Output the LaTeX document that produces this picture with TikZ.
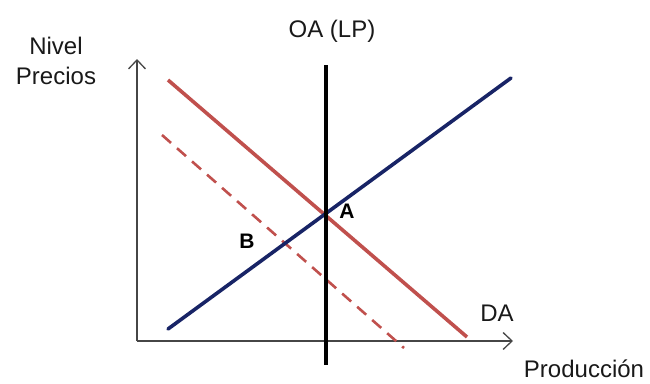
\documentclass[tikz,border=0pt]{standalone}
\usepackage{fontspec}
\setmainfont{Liberation Sans}
\usepackage{xcolor}
\usepackage{tikz}
\usetikzlibrary{arrows.meta,positioning,calc}

\definecolor{darED}{RGB}{192,80,77}
\definecolor{oaBLUE}{RGB}{24,36,102}
\definecolor{axGRAY}{RGB}{70,70,70}

\begin{document}
\begin{tikzpicture}[
    x=1pt, y=-1pt,
    lbl/.style={font=\fontsize{24}{30}\selectfont, text=black!90, inner sep=0pt},
    ptlbl/.style={font=\fontsize{21}{24}\selectfont\bfseries, inner sep=0pt},
    axis/.style={-{Straight Barb[length=9pt,width=17pt,line width=1.3pt]}, line width=1.8pt, draw=axGRAY},
    dacurve/.style={line width=3.6pt, draw=darED},
    dashcurve/.style={line width=2.6pt, draw=darED, dash pattern=on 12pt off 8pt},
    oacurve/.style={line width=3.6pt, draw=oaBLUE, line cap=round},
    lpcurve/.style={line width=3.8pt, draw=black}
]
\useasboundingbox (0,0) rectangle (650,383);

% Axes
\coordinate (origin) at (137,341);
\coordinate (ytop) at (137,59);
\coordinate (xend) at (513,341);
\draw[axis] (origin) -- (ytop);
\draw[axis] (origin) -- (xend);

% Curve end points
\coordinate (da1) at (168,80);
\coordinate (da2) at (467,337);
\coordinate (dd1) at (162,135);
\coordinate (dd2) at (404,348);
\coordinate (oa1) at (168,329);
\coordinate (oa2) at (511,78);
\coordinate (lp1) at (326,65);
\coordinate (lp2) at (326,365);

% Curves
\draw[dashcurve] (dd1) -- (dd2);
\draw[dacurve] (da1) -- (da2);
\draw[oacurve] (oa1) -- (oa2);
\draw[lpcurve] (lp1) -- (lp2);

% Labels
\node[lbl] (oalp) at (332,31) {OA (LP)};
\node[lbl, align=center] (nivel) at (56,61) {Nivel\\Precios};
\node[lbl] (da) at (497,313) {DA};
\node[lbl] (prod) at (584,369) {Producción};
\node[ptlbl] (ptA) at (347,211) {A};
\node[ptlbl] (ptB) at (247,241) {B};

\end{tikzpicture}
\end{document}
